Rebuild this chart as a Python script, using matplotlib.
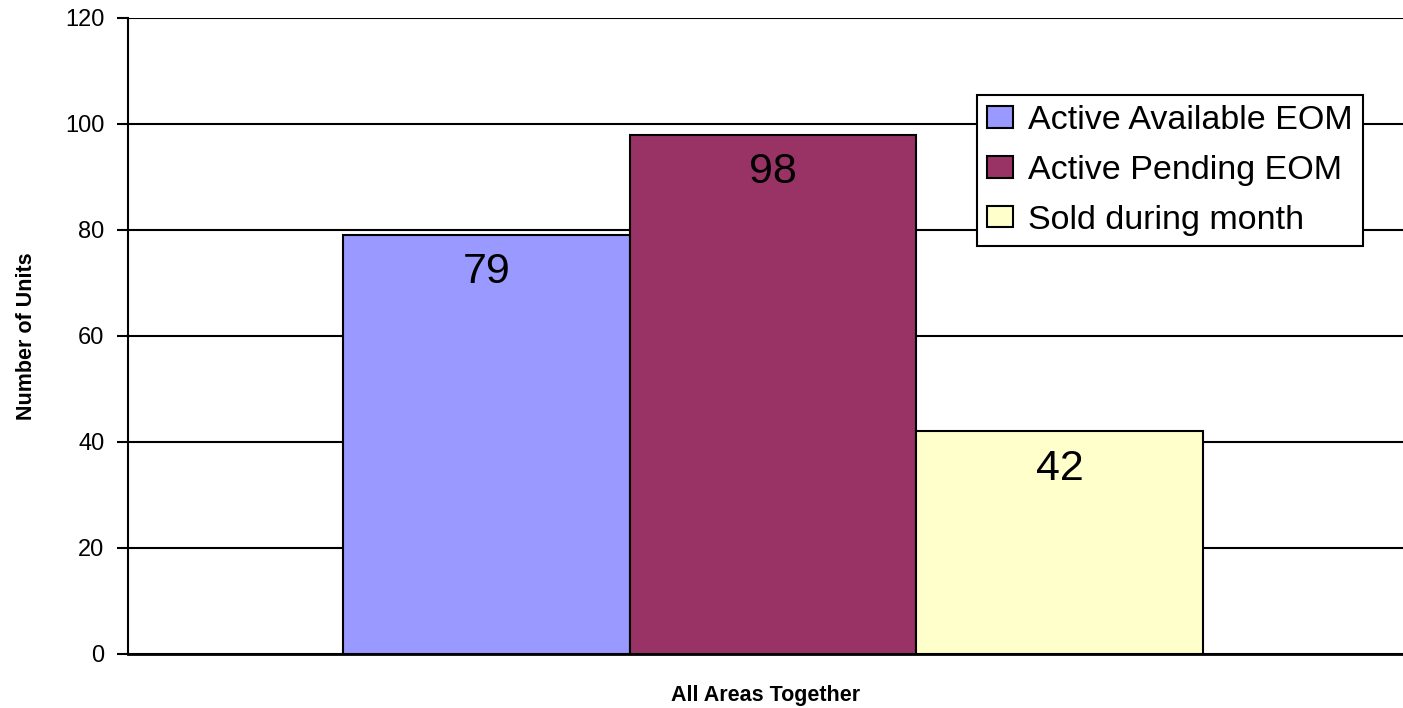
import matplotlib.pyplot as plt

plt.rcParams['font.family'] = ['Liberation Sans', 'DejaVu Sans']

series = ['Active Available EOM', 'Active Pending EOM', 'Sold during month']
values = [79, 98, 42]
colors = ['#9999ff', '#993366', '#ffffcc']
category = 'All Areas Together'
yticks = [0, 20, 40, 60, 80, 100, 120]

fig = plt.figure(figsize=(14.03, 7.08), dpi=100)
ax = fig.add_axes([128 / 1403, 1 - 654 / 708, 1275 / 1403, 636 / 708])

# one category, three bars side by side
for i, (name, v, c) in enumerate(zip(series, values, colors)):
    x = i - 1
    ax.bar(x, v, width=1.0, color=c, edgecolor='black', linewidth=1.5,
           label=name, zorder=3)
    ax.text(x, v - 7, str(v), ha='center', va='center', fontsize=31, zorder=4)

ax.set_xlim(-2.25, 2.198)
ax.set_ylim(0, 120)
ax.set_yticks(yticks)
ax.tick_params(axis='y', labelsize=17, length=8, width=1.5, direction='out', pad=9)
ax.set_xticks([])
ax.yaxis.grid(True, color='black', linewidth=1.5, zorder=0)
ax.set_axisbelow(True)
for s in ['top', 'right']:
    ax.spines[s].set_visible(False)
ax.spines['left'].set_linewidth(1.5)
ax.spines['bottom'].set_linewidth(2)

ax.set_ylabel('Number of Units', fontsize=15.5, fontweight='bold', labelpad=20)
ax.set_xlabel(category, fontsize=15.5, fontweight='bold', labelpad=22)

leg = ax.legend(loc='upper right', bbox_to_anchor=(1363 / 1403, 1 - 95 / 708),
                bbox_transform=fig.transFigure, borderaxespad=0, fontsize=24.5,
                fancybox=False, framealpha=1, edgecolor='black',
                handlelength=0.75, handleheight=0.6, handletextpad=0.45,
                labelspacing=0.55, borderpad=0.3)
leg.get_frame().set_linewidth(1.5)
leg.set_zorder(5)

fig.savefig('out.png', dpi=100)
